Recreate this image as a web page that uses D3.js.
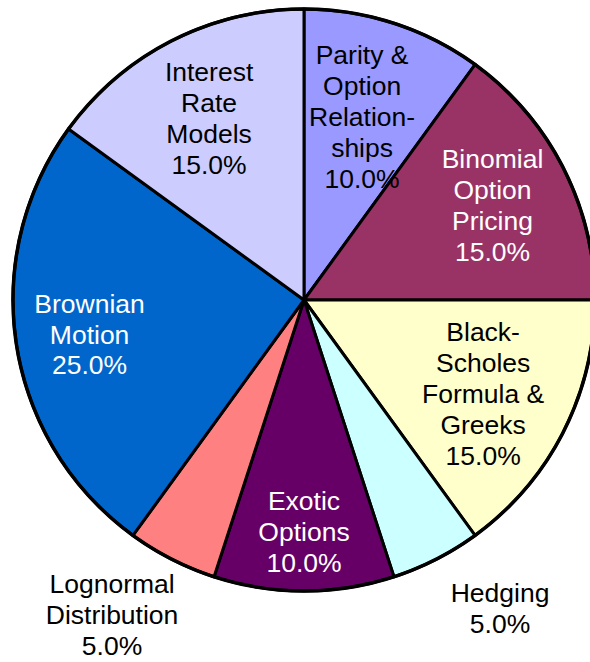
<!DOCTYPE html>
<html>
<head>
<meta charset="utf-8">
<script src="https://cdn.jsdelivr.net/npm/d3@7/dist/d3.min.js"></script>
<style>
  html, body { margin: 0; padding: 0; background: #fff; }
  svg { display: block; }
  text { font-family: "Liberation Sans", Arial, Helvetica, sans-serif; }
</style>
</head>
<body>
<svg id="chart" width="590" height="662"></svg>
<script>
// ---- data ----
const categories = [
  "Parity &\nOption\nRelation-\nships",
  "Binomial\nOption\nPricing",
  "Black-\nScholes\nFormula &\nGreeks",
  "Hedging",
  "Exotic\nOptions",
  "Lognormal\nDistribution",
  "Brownian\nMotion",
  "Interest\nRate\nModels"
];
const values = [10, 15, 15, 5, 10, 5, 25, 15];
const colors = ["#9999FF", "#993366", "#FFFFCC", "#CCFFFF", "#660066", "#FF8080", "#0066CC", "#CCCCFF"];
const textColors = ["#000", "#fff", "#000", "#000", "#fff", "#000", "#fff", "#000"];
// label layout: radius factor and angular offset (degrees) relative to slice mid-angle
const labelRadius = [0.66, 0.725, 0.694, 1.254, 0.794, 1.266, 0.746, 0.704];
const labelAngleOffset = [-0.4, 0.3, 0.5, -5.5, 0, 4.4, 0, -0.6];

// ---- layout ----
const W = 590, H = 662;
const cx = 304, cy = 300, R = 291;
const fontSize = 26.5, lineH = 31;

const svg = d3.select("#chart");
const g = svg.append("g").attr("transform", `translate(${cx},${cy})`);

const total = d3.sum(values);
const data = values.map((v, i) => ({ name: categories[i], value: v, i }));
const pie = d3.pie().sort(null).value(d => d.value).startAngle(0).endAngle(2 * Math.PI);
const arcs = pie(data);
const arc = d3.arc().innerRadius(0).outerRadius(R);

g.selectAll("path.slice")
  .data(arcs)
  .join("path")
  .attr("class", "slice")
  .attr("d", arc)
  .attr("fill", d => colors[d.data.i])
  .attr("stroke", "#000")
  .attr("stroke-width", 3)
  .attr("stroke-linejoin", "round");

// outer outline
g.append("circle").attr("r", R).attr("fill", "none").attr("stroke", "#000").attr("stroke-width", 3.5);

const fmt = d3.format(".1f");
const labels = g.selectAll("g.label")
  .data(arcs)
  .join("g")
  .attr("class", "label")
  .attr("transform", d => {
    const mid = (d.startAngle + d.endAngle) / 2 + labelAngleOffset[d.data.i] * Math.PI / 180;
    const r = R * labelRadius[d.data.i];
    return `translate(${r * Math.sin(mid)},${-r * Math.cos(mid)})`;
  });

labels.each(function(d) {
  const lines = d.data.name.split("\n").concat([fmt(d.data.value / total * 100) + "%"]);
  const n = lines.length;
  const t = d3.select(this).append("text")
    .attr("text-anchor", "middle")
    .attr("font-size", fontSize)
    .attr("fill", textColors[d.data.i]);
  lines.forEach((s, k) => {
    t.append("tspan")
      .attr("x", 0)
      .attr("y", (k - (n - 1) / 2) * lineH + fontSize * 0.36)
      .text(s);
  });
});
</script>
</body>
</html>
